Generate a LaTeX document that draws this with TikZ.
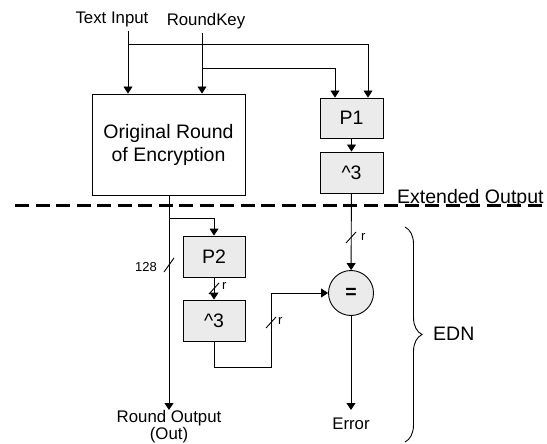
\documentclass[tikz,border=0pt]{standalone}
\usepackage{fontspec}
\setmainfont{Liberation Sans}
\usetikzlibrary{arrows.meta,decorations.pathreplacing,calc}
\definecolor{boxgray}{HTML}{EBEBEB}
\tikzset{
  big/.style={font=\fontsize{19.5}{23}\selectfont},
  mid/.style={font=\fontsize{16.8}{19}\selectfont},
  small/.style={font=\fontsize{13}{15}\selectfont},
  line/.style={line width=0.9pt},
  arr/.style={line, -{Triangle[length=7pt,width=9pt]}},
  graybox/.style={draw, line width=0.9pt, fill=boxgray, minimum width=63pt, minimum height=41pt, inner sep=0pt, big},
  slash/.style={line width=0.9pt},
}
\begin{document}
\begin{tikzpicture}[x=1pt,y=-1pt]
\useasboundingbox (0,0) rectangle (547,444);
% nodes
\node[mid, anchor=base] (ti) at (112,24) {Text Input};
\node[mid, anchor=base] (rk) at (206,26) {RoundKey};
\node[draw, line width=0.9pt, minimum width=153pt, minimum height=101pt, big, align=center, inner sep=0pt] (orig) at (168.5,144.5) {Original Round\\of Encryption};
\node[graybox, minimum height=40pt] (p1) at (351.5,118) {P1};
\node[graybox] (c1) at (351.5,172.5) {\textasciicircum 3};
\node[graybox, minimum width=62pt] (p2) at (214,256.5) {P2};
\node[graybox, minimum width=62pt] (c2) at (214,320.5) {\textasciicircum 3};
\node[draw, circle, line width=0.9pt, fill=boxgray, minimum size=45pt, inner sep=0pt, big] (eq) at (351,293) {\textbf{=}};
\node[font=\fontsize{16.8}{16.5}\selectfont, align=center, anchor=north, inner sep=0pt] (out) at (169,410.5) {Round Output\\(Out)};
\node[mid, anchor=north, inner sep=0pt] (err) at (351,418) {Error};
\node[big, anchor=base west, inner sep=0pt] (ext) at (397,203) {Extended Output};
\node[big, anchor=west, inner sep=0pt] (edn) at (433,334) {EDN};
% coordinates
\coordinate (xa) at (128,0);
\coordinate (xb) at (202,0);
\coordinate (xc) at (335,0);
\coordinate (xd) at (368,0);
\coordinate (ja) at (128,44);
\coordinate (jb) at (202,68);
\coordinate (jc) at (169,218);
\coordinate (jd) at (271,367);
\coordinate (ye) at (0,410);
% connectors
\draw[arr] (ti.south -| xa) -- (orig.north -| xa);
\draw[arr] (rk.south -| xb) -- (orig.north -| xb);
\draw[arr] (ja) -| (p1.north -| xd);
\draw[arr] (jb) -| (p1.north -| xc);
\draw[arr] (p1) -- (c1);
\draw[arr] (c1) -- (eq);
\draw[arr] (orig.south -| jc) -- (ye -| jc);
\draw[arr] (jc) -| (p2.north);
\draw[arr] (p2) -- (c2);
\draw[arr] (c2.south) |- (jd) |- (eq.west);
\draw[arr] (eq) -- (ye -| eq);
% bus slashes
\draw[slash] (164,272) -- (174,258);
\node[small, anchor=east, inner sep=0pt] (l128) at (157,267) {128};
\draw[slash] (346,243) -- (356,232);
\node[small, anchor=west, inner sep=0pt] (lr1) at (361,237) {r};
\draw[slash] (209,294) -- (219,283);
\node[small, anchor=west, inner sep=0pt] (lr2) at (222,286) {r};
\draw[slash] (266,328) -- (276,317);
\node[small, anchor=west, inner sep=0pt] (lr3) at (278,321) {r};
% dashed separator
\draw[line width=3pt, dash pattern=on 14pt off 6.5pt] (15,205) -- (547,205);
% brace
\draw[line width=0.9pt, decorate, decoration={brace, amplitude=17pt}] (405,227) -- (405,442);
\end{tikzpicture}
\end{document}
